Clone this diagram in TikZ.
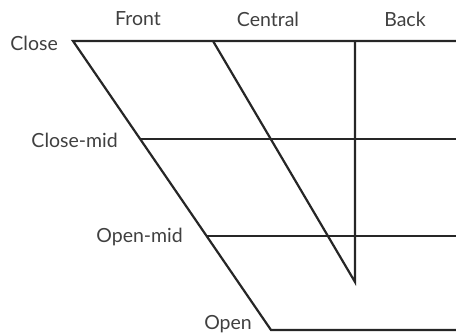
\documentclass[tikz,border=0pt]{standalone}
\usepackage{fontspec}
\setmainfont{Lato}
\begin{document}
\begin{tikzpicture}[x=1pt,y=-1pt,
  grid/.style={line width=2.2pt,draw=black!85,line cap=butt,line join=miter},
  lbl/.style={font=\fontsize{19.5}{22}\selectfont,text=black!75,inner sep=0pt}]
\useasboundingbox (0,0) rectangle (456,334);
% corners and ends
\coordinate (TL) at (73,41);
\coordinate (TR) at (456,41);
\coordinate (BL) at (271,330);
\coordinate (BR) at (456,330);
\coordinate (CMl) at (140,139);
\coordinate (CMr) at (456,139);
\coordinate (OMl) at (207,236);
\coordinate (OMr) at (456,236);
\coordinate (CT) at (213,41);
\coordinate (BT) at (355,41);
\coordinate (VB) at (355,282);
% lines
\draw[grid] (TR) -- (TL) -- (BL) -- (BR);
\draw[grid] (CMl) -- (CMr);
\draw[grid] (OMl) -- (OMr);
\draw[grid] (CT) -- (VB) -- (BT);
% labels
\node[lbl] (front) at (138,19) {Front};
\node[lbl] (central) at (268,19) {Central};
\node[lbl] (back) at (405,19) {Back};
\node[lbl,anchor=east] (close) at (58,43) {Close};
\node[lbl,anchor=east] (closemid) at (118,140) {Close-mid};
\node[lbl,anchor=east] (openmid) at (183,237) {Open-mid};
\node[lbl,anchor=east] (open) at (252,324) {Open};
\end{tikzpicture}
\end{document}
